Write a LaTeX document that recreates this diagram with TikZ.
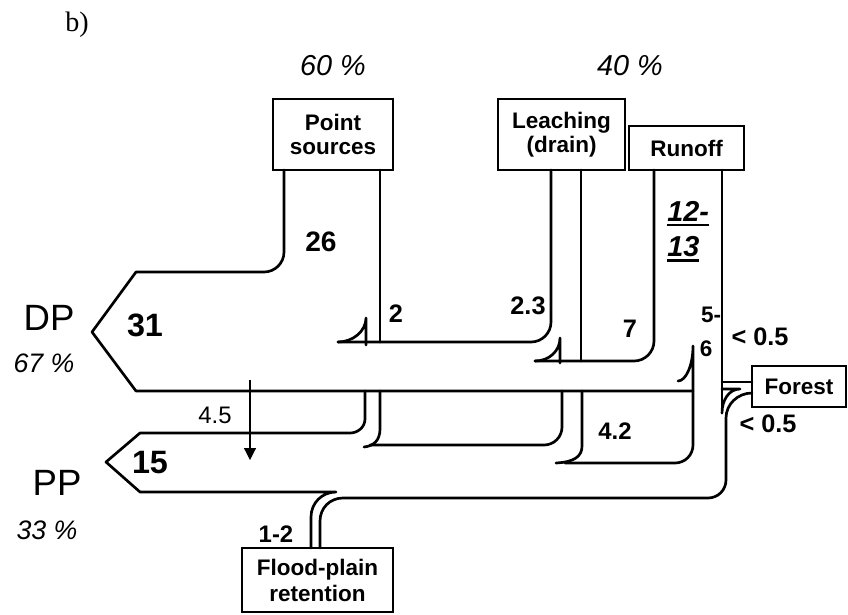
\documentclass[tikz,border=0pt]{standalone}
\usepackage{fontspec}
\setmainfont{Liberation Sans}
\newfontfamily\serifface{Liberation Serif}
\usetikzlibrary{arrows.meta}
\newcommand\thickul[1]{\vtop{\hbox{#1}\kern1.8pt\hrule height 2pt}}

\begin{document}
\begin{tikzpicture}[x=0.025cm, y=-0.025cm,
  flow/.style={line width=1.9pt, line join=round, line cap=round},
  src/.style={draw, line width=1.6pt, inner sep=0pt, align=center,
              font=\fontsize{16}{17}\selectfont\bfseries},
  num/.style={inner sep=0pt, font=\fontsize{18}{20}\selectfont\bfseries},
  band/.style={inner sep=0pt, font=\fontsize{26}{28}\selectfont},
  pct/.style={inner sep=0pt, font=\fontsize{19}{21}\selectfont\itshape},
]
  \useasboundingbox (0,0) rectangle (848,614);

  % Sources
  \node[src, minimum width=3cm, minimum height=1.775cm] (ps) at (333,134.5) {Point\\sources};
  \node[src, minimum width=3.175cm, minimum height=1.775cm] (leach) at (561.5,134.5) {Leaching\\(drain)};
  \node[src, minimum width=2.875cm, minimum height=1.1cm] (runoff) at (686.5,148) {Runoff};
  \node[src, minimum width=2.35cm, minimum height=1.025cm] (forest) at (799,386.5) {Forest};
  \node[src, minimum width=3.775cm, minimum height=1.6cm,
        font=\fontsize{16}{18.5}\selectfont\bfseries] (flood) at (317.5,580) {Flood-plain\\retention};

  % Shares
  \node[font=\fontsize{20}{22}\selectfont\serifface, inner sep=0pt] (lbl) at (77,25) {b)};
  \node[pct, font=\fontsize{20.5}{22}\selectfont\itshape] (psshare) at (333,66) {60 \%};
  \node[pct, font=\fontsize{20.5}{22}\selectfont\itshape] (diffshare) at (630,66) {40 \%};
  \node[band] (dp) at (49,318) {DP};
  \node[pct] (dpshare) at (44,363) {67 \%};
  \node[band] (pp) at (57,483) {PP};
  \node[pct] (ppshare) at (47,530) {33 \%};

  % DP band
  \draw[flow] (284,170) -- (284,252) .. controls (284,263) and (275,272) .. (264,272)
    -- (136,272) -- (92,332) -- (136,391) -- (693,391);
  \draw[flow] (380,170) -- (380,342);
  \draw[flow] (338,342) -- (531,342) .. controls (542,342) and (551,333) .. (551,322) -- (551,170);
  \draw[flow] (338,342) .. controls (353,342) and (366,331) .. (366,318) -- (366,345);
  \draw[flow] (581,170) -- (581,361);
  \draw[flow] (535,361) -- (634,361) .. controls (645,361) and (654,352) .. (654,341) -- (654,170);
  \draw[flow] (535,361) .. controls (549,361) and (560,351) .. (560,338) -- (560,363);
  \draw[flow] (722,170) -- (722,413);
  \draw[flow] (678,381) .. controls (686,381) and (693,365) .. (693,346) -- (693,445)
    .. controls (693,455) and (685,463) .. (675,463) -- (565,463);

  % PP band
  \draw[flow] (365,391) -- (365,419) .. controls (365,427) and (358,433) .. (350,433)
    -- (140,433) -- (106,462) -- (140,492) -- (336,492)
    .. controls (322,492) and (311,503) .. (311,517) -- (311,548);
  \draw[flow] (380,391) -- (380,429) .. controls (380,440) and (374,446) .. (364,447);
  \draw[flow] (370,445) -- (544,445) .. controls (554,445) and (562,437) .. (562,427) -- (562,391);
  \draw[flow] (582,391) -- (582,446) .. controls (582,456) and (575,462) .. (556,463);

  % Forest
  \draw[flow] (722,382) -- (752,382);
  \draw[flow] (722,389) -- (740,389) .. controls (729,389) and (722,400) .. (722,413);
  \draw[flow] (752,393) .. controls (738,393) and (726,404) .. (726,418) -- (726,480)
    .. controls (726,490) and (718,498) .. (708,498) -- (343,498)
    .. controls (330,498) and (320,508) .. (320,521) -- (320,548);

  % Sedimentation
  \draw[line width=0.8pt, -{Triangle[length=8.5pt, width=8.5pt]}] (250,380) -- (250,460);

  % Loads
  \node[num, font=\fontsize{20}{22}\selectfont\bfseries] (v26) at (321,242) {26};
  \node[num, font=\fontsize{23}{25}\selectfont\bfseries] (v31) at (145,325) {31};
  \node[num] (v2) at (396,314) {2};
  \node[num] (v23) at (528,306) {2.3};
  \node[num] (v7) at (630,329) {7};
  \node[num, anchor=base west, font=\fontsize{20.5}{22}\selectfont\bfseries\itshape] (v12) at (667,221) {\thickul{12-}};
  \node[num, anchor=base west, font=\fontsize{20.5}{22}\selectfont\bfseries\itshape] (v13) at (667,256) {\thickul{13}};
  \node[num, font=\fontsize{16}{18}\selectfont\bfseries] (v5) at (711,315) {5-};
  \node[num, font=\fontsize{16}{18}\selectfont\bfseries] (v6) at (706,349) {6};
  \node[num] (vf1) at (760,337) {< 0.5};
  \node[num] (vf2) at (768,424) {< 0.5};
  \node[inner sep=0pt, font=\fontsize{17}{19}\selectfont] (v45) at (215,415) {4.5};
  \node[num, font=\fontsize{23}{25}\selectfont\bfseries] (v15) at (150,463) {15};
  \node[num, font=\fontsize{17}{19}\selectfont\bfseries] (v42) at (615,431) {4.2};
  \node[num, font=\fontsize{17}{19}\selectfont\bfseries] (v12r) at (276,534) {1-2};
\end{tikzpicture}
\end{document}
